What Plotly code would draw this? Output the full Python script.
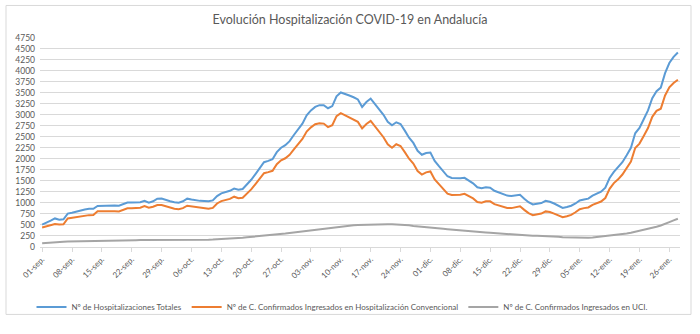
import plotly.graph_objects as go

# Categories: daily dates 01-sep. .. 28-ene.
month_names = ["sep.", "oct.", "nov.", "dic.", "ene."]
month_days = [30, 31, 30, 31, 28]
categories = [f"{d:02d}-{m}" for m, n in zip(month_names, month_days) for d in range(1, n + 1)]

tick_labels = ["01-sep.", "08-sep.", "15-sep.", "22-sep.", "29-sep.", "06-oct.", "13-oct.",
               "20-oct.", "27-oct.", "03-nov.", "10-nov.", "17-nov.", "24-nov.", "01-dic.",
               "08-dic.", "15-dic.", "22-dic.", "29-dic.", "05-ene.", "12-ene.", "19-ene.",
               "26-ene."]

y_ticks = list(range(0, 4751, 250))

total = [500, 540, 590, 640, 610, 620, 750,
         770, 800, 820, 845, 860, 860, 925,
         930, 935, 940, 935, 930, 960, 1000,
         1000, 1000, 1010, 1040, 1000, 1030, 1090,
         1095, 1060, 1030, 1010, 1000, 1030, 1090,
         1070, 1050, 1040, 1035, 1030, 1050, 1150,
         1210, 1235, 1270, 1320, 1295, 1310, 1414,
         1520, 1650, 1780, 1920, 1950, 1990, 2150,
         2250, 2310, 2400, 2540, 2680, 2800, 2990,
         3100, 3180, 3220, 3220, 3150, 3200, 3420,
         3510, 3480, 3440, 3400, 3350, 3180, 3290,
         3370, 3250, 3120, 3000, 2840, 2760, 2830,
         2790, 2640, 2480, 2360, 2180, 2090, 2130,
         2140, 1950, 1830, 1720, 1600, 1560, 1550,
         1555, 1565, 1500, 1440, 1350, 1330, 1350,
         1340, 1270, 1230, 1200, 1160, 1150, 1170,
         1180, 1090, 1010, 960, 970, 990, 1040,
         1020, 980, 930, 880, 900, 930, 980,
         1050, 1070, 1090, 1160, 1200, 1250, 1340,
         1560, 1700, 1800, 1920, 2080, 2250, 2580,
         2700, 2900, 3100, 3380, 3540, 3620, 3950,
         4180, 4320, 4420]

convencional = [435, 460, 495, 510, 500, 505, 640,
                655, 680, 695, 710, 715, 720, 805,
                805, 810, 810, 805, 800, 840, 870,
                870, 875, 885, 920, 885, 905, 945,
                945, 915, 880, 860, 850, 875, 930,
                915, 890, 875, 865, 860, 880, 980,
                1035, 1060, 1085, 1135, 1100, 1110, 1205,
                1300, 1420, 1545, 1670, 1695, 1725, 1875,
                1965, 2010, 2090, 2215, 2340, 2450, 2620,
                2715, 2785, 2810, 2800, 2720, 2765, 2970,
                3040, 2990, 2940, 2890, 2840, 2690, 2790,
                2860, 2740, 2610, 2490, 2330, 2250, 2330,
                2290, 2150, 2000, 1890, 1720, 1640, 1690,
                1710, 1530, 1420, 1320, 1205, 1175, 1170,
                1180, 1200, 1145, 1095, 1015, 1000, 1030,
                1030, 965, 935, 915, 880, 875, 900,
                915, 835, 760, 715, 725, 750, 800,
                785, 750, 705, 670, 690, 720, 780,
                850, 875, 890, 950, 985, 1025, 1105,
                1315, 1445, 1530, 1640, 1780, 1935, 2245,
                2345, 2520, 2700, 2955, 3090, 3140, 3440,
                3625, 3725, 3800]

uci = [72, 82, 92, 100, 106, 110, 114,
       117, 120, 122, 124, 126, 128, 130,
       132, 134, 136, 137, 138, 140, 142,
       144, 145, 146, 146, 145, 144, 145,
       145, 144, 142, 140, 140, 141, 143,
       145, 148, 150, 153, 156, 159, 163,
       168, 174, 180, 186, 192, 200, 210,
       218, 228, 238, 248, 256, 264, 274,
       286, 298, 310, 322, 336, 350, 366,
       382, 396, 408, 418, 426, 436, 448,
       460, 470, 478, 486, 492, 496, 502,
       505, 508, 510, 510, 508, 506, 504,
       500, 492, 482, 470, 458, 446, 440,
       432, 422, 412, 402, 392, 386, 380,
       374, 366, 356, 346, 336, 328, 320,
       312, 304, 296, 288, 280, 274, 270,
       264, 258, 252, 246, 244, 242, 240,
       236, 230, 222, 214, 210, 206, 200,
       196, 194, 198, 205, 215, 225, 236,
       244, 256, 268, 282, 298, 316, 336,
       356, 378, 400, 424, 450, 478, 510,
       556, 596, 632]

series_names = ["Nº de Hospitalizaciones Totales",
                "Nº de C. Confirmados Ingresados en Hospitalización Convencional",
                "Nº de C. Confirmados Ingresados en UCI."]
colors = ["#5B9BD5", "#ED7D31", "#A5A5A5"]

FONT = "Lato"
TXT = "#595959"

fig = go.Figure()
for name, vals, col in zip(series_names, [total, convencional, uci], colors):
    fig.add_trace(go.Scatter(x=categories, y=vals, mode="lines", name=name,
                             line=dict(color=col, width=2)))

W, H = 700, 334
L, R, T, B = 40, 20, 38, 78
pw, ph = W - L - R, H - T - B

def px_x(p):
    return (p - L) / pw

def px_y(p):
    return (H - B - p) / ph

fig.update_layout(
    width=W, height=H,
    margin=dict(l=L, r=R, t=T, b=B),
    paper_bgcolor="white", plot_bgcolor="white",
    font=dict(family=FONT, color=TXT, size=9),
    title=dict(text="Evolución Hospitalización COVID-19 en Andalucía",
               x=0.5, xanchor="center", y=1 - 20 / H, yanchor="middle",
               font=dict(family=FONT, size=12.5, color=TXT)),
    showlegend=True,
    legend=dict(orientation="h", xref="container", yref="container",
                x=342 / W, xanchor="center", y=1 - 307 / H, yanchor="middle",
                font=dict(family=FONT, size=8, color=TXT), bgcolor="rgba(0,0,0,0)",
                itemwidth=30, tracegroupgap=0),
    shapes=[dict(type="rect", xref="paper", yref="paper",
                 x0=px_x(6), x1=px_x(691), y0=px_y(327), y1=px_y(4),
                 line=dict(color="#D9D9D9", width=1), layer="below")],
)

fig.update_xaxes(type="category", range=[-0.5, len(categories) - 0.5],
                 tickmode="array", tickvals=tick_labels, ticktext=tick_labels,
                 tickangle=-45, tickfont=dict(size=8, color=TXT, family=FONT),
                 showgrid=False, showline=True, linecolor="#D9D9D9", linewidth=1,
                 ticks="outside", ticklen=4, tickcolor="#D9D9D9")

fig.update_yaxes(range=[0, 4750], tickmode="array", tickvals=y_ticks,
                 ticktext=[str(v) for v in y_ticks],
                 tickfont=dict(size=8.5, color=TXT, family=FONT),
                 showgrid=True, gridcolor="#D9D9D9", gridwidth=1,
                 zeroline=False, showline=False, ticks="", ticklabelstandoff=4)

fig.write_html("out.html")
